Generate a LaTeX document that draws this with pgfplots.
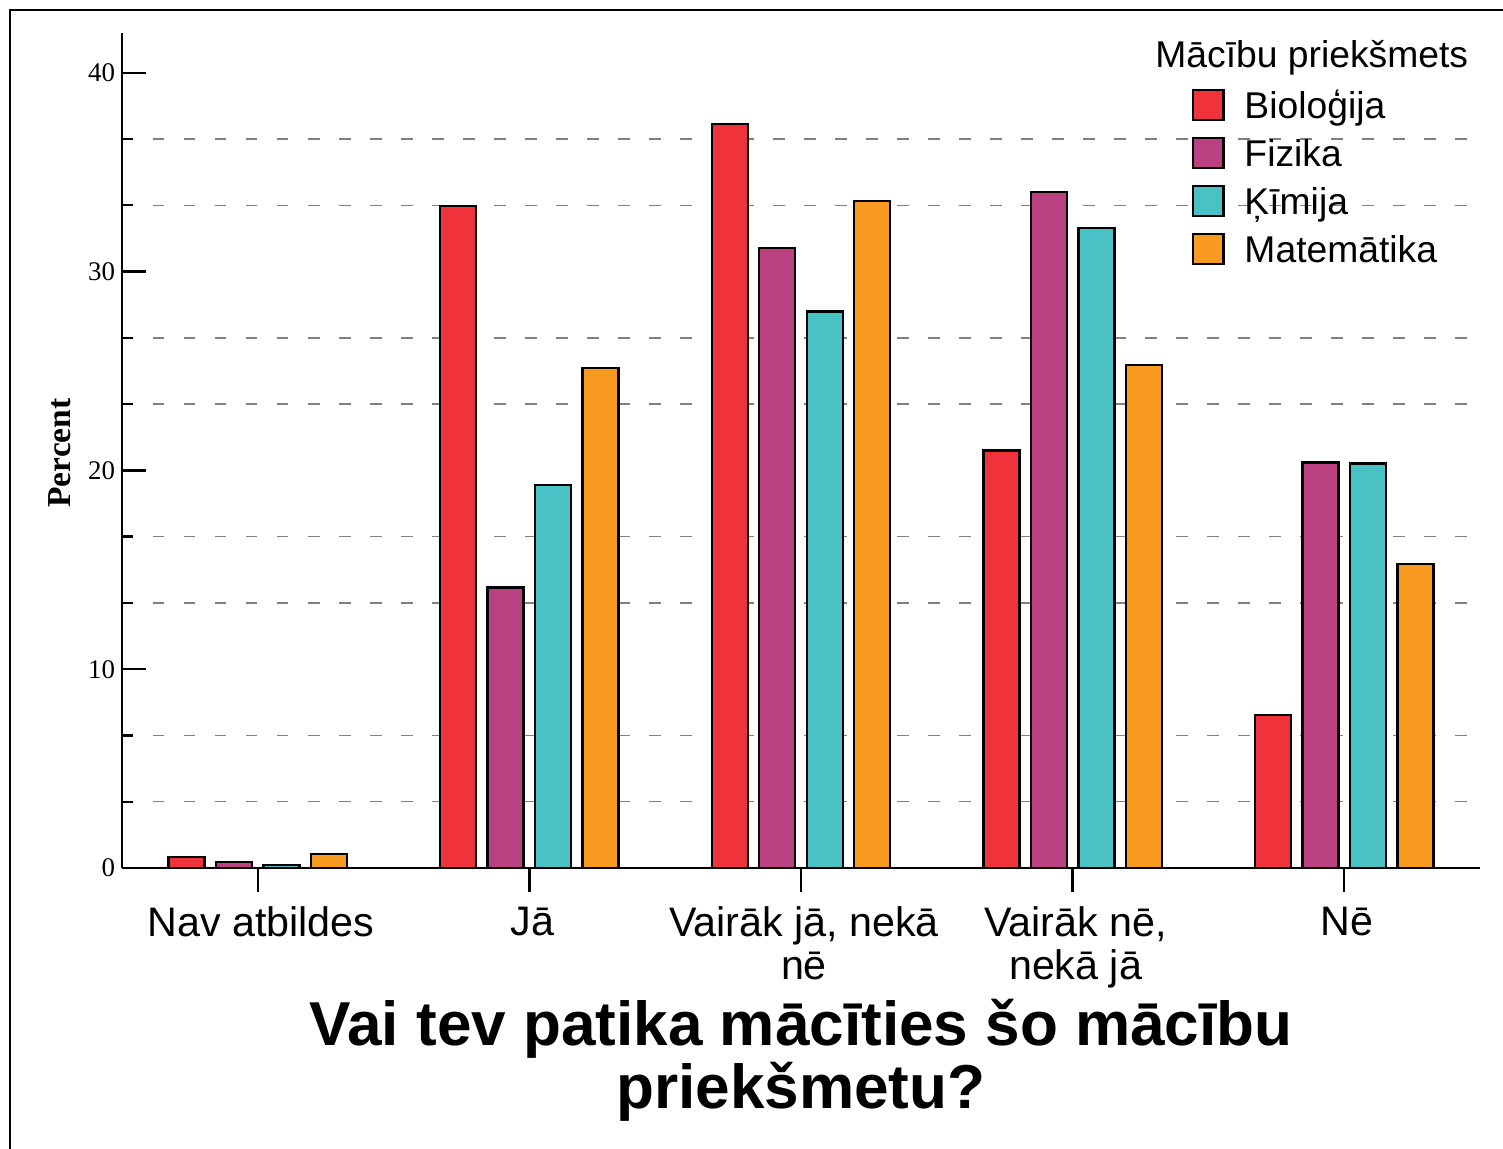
\documentclass[border=0pt]{standalone}
\usepackage{fontspec}
\setmainfont{Liberation Sans}
\newfontfamily\seriffont{Liberation Serif}
\usepackage{pgfplots}
\pgfplotsset{compat=1.18}
\definecolor{cBio}{RGB}{240,51,58}
\definecolor{cFiz}{RGB}{186,64,127}
\definecolor{cKim}{RGB}{72,194,197}
\definecolor{cMat}{RGB}{248,154,32}
\begin{document}
\begin{tikzpicture}
\useasboundingbox (-61bp,-140.5bp) rectangle (690.5bp,434bp);
\draw[line width=1bp] (-56bp,-141bp) -- (-56bp,429bp) -- (690.5bp,429bp);
\begin{axis}[
  at={(0,0)}, anchor=south west, scale only axis,
  width=679bp, height=417.5bp,
  xmin=-0.5, xmax=4.5, ymin=0, ymax=42,
  axis x line=bottom, axis y line=left,
  axis line style={-, line width=1.4bp, black},
  ybar=5.75bp, bar width=18bp,
  legend image code/.code={\draw[#1,draw=black,line width=1.2bp] (0bp,-7.5bp) rectangle (15bp,7.5bp);},
  xtick={0,1,2,3,4},
  xticklabels={Nav atbildes, Jā, {Vairāk jā, nekā\\nē}, {Vairāk nē,\\nekā jā}, Nē},
  ytick={0,10,20,30,40},
  minor y tick num=2,
  yminorgrids=true, ymajorgrids=false, xmajorgrids=false,
  minor grid style={dash pattern=on 5.75bp off 9.75bp, color=black!50, line width=0.75bp},
  tick style={black, line width=1.2bp},
  major tick length=12bp, minor tick length=5.5bp,
  xtick align=outside, ytick align=inside,
  xticklabel style={font=\fontsize{20.7}{21.5}\selectfont, align=center, yshift=-4bp, xshift=1.5bp},
  yticklabel style={font=\fontsize{13.5}{15}\seriffont},
  /pgf/number format/assume math mode=true,
  ylabel={Percent},
  ylabel style={font=\fontsize{16.8}{18}\seriffont\bfseries, at={(axis description cs:-0.0457,0.497)}, anchor=center},
  xlabel={Vai tev patika mācīties šo mācību\\priekšmetu?},
  xlabel style={font=\fontsize{31.15}{31.5}\selectfont\bfseries, align=center, at={(axis description cs:0.5,-0.157)}, anchor=north, inner sep=0pt},
  legend style={at={(axis description cs:0.788,0.933)}, anchor=north west, draw=none, fill=none, inner sep=0pt, outer sep=0pt,
    font=\fontsize{18.7}{20}\selectfont, row sep=7.75bp,
    nodes={text height=13.5bp, text depth=0bp, inner sep=0pt},
    /tikz/every odd column/.append style={column sep=10bp}},
  legend cell align=left,
]
\addplot[fill=cBio, draw=black, line width=1.2bp] coordinates {(0,0.55) (1,33.3) (2,37.43) (3,21.0) (4,7.7)};
\addplot[fill=cFiz, draw=black, line width=1.2bp] coordinates {(0,0.3) (1,14.1) (2,31.18) (3,34.0) (4,20.4)};
\addplot[fill=cKim, draw=black, line width=1.2bp] coordinates {(0,0.15) (1,19.25) (2,28.0) (3,32.2) (4,20.35)};
\addplot[fill=cMat, draw=black, line width=1.2bp] coordinates {(0,0.7) (1,25.14) (2,33.55) (3,25.3) (4,15.3)};
\legend{Bioloģija, Fizika, Ķīmija, Matemātika}
\node[anchor=base west, font=\fontsize{18.7}{20}\selectfont, inner sep=0pt] at (rel axis cs:0.7607,0.959) {Mācību priekšmets};
\end{axis}
\end{tikzpicture}
\end{document}
